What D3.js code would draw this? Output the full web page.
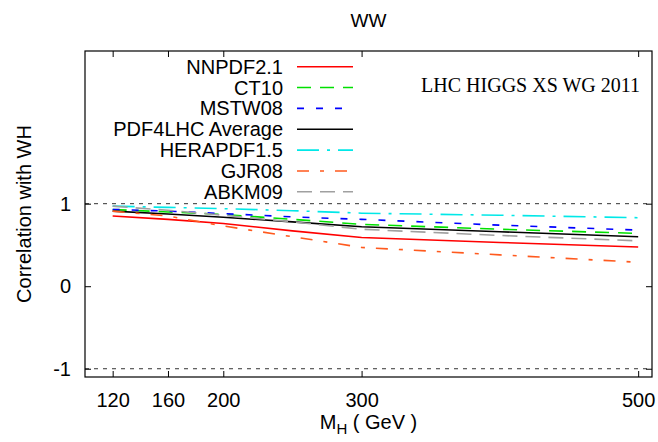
<!DOCTYPE html>
<html lang="en"><head>
<meta charset="utf-8">
<title>WW correlation</title>
<script src="https://cdnjs.cloudflare.com/ajax/libs/d3/7.8.5/d3.min.js"></script>
<style>
  body { margin: 0; background: #fff; }
  text { font-family: "Liberation Sans", Arial, sans-serif; fill: #000; }
</style>
</head>
<body>
<div id="chart"></div>
<script type="text/javascript">

// Higgs masses (GeV) and correlations
var masses  = [120, 160, 200, 250, 300, 400, 500];
var nnpdf   = [0.85, 0.81, 0.76, 0.67, 0.59, 0.53, 0.475];
var ct10    = [0.93, 0.90, 0.87, 0.81, 0.75, 0.69, 0.64];
var mstw    = [0.93, 0.91, 0.88, 0.84, 0.81, 0.74, 0.68];
var pdf4lhc = [0.91, 0.875, 0.835, 0.78, 0.72, 0.66, 0.60];
var herapdf = [0.97, 0.955, 0.94, 0.915, 0.885, 0.86, 0.83];
var gjr     = [0.91, 0.85, 0.73, 0.60, 0.47, 0.38, 0.29];
var abkm    = [0.97, 0.92, 0.86, 0.78, 0.69, 0.615, 0.55];

var names  = ["NNPDF2.1", "CT10", "MSTW08", "PDF4LHC Average", "HERAPDF1.5", "GJR08", "ABKM09"];
var values = [nnpdf, ct10, mstw, pdf4lhc, herapdf, gjr, abkm];

var xTicks = [120, 160, 200, 300, 500];
var yTicks = [-1, 0, 1];

var colors = ["#ff0000", "#00e000", "#0000ff", "#000000", "#00e8e8", "#ff5a1e", "#a0a0a0"];
var dashes = [null, "14,9", "7,12", null, "22,8,3,8", "12,11,4,11", "15,8"];

var width = 658, height = 442;
var margin = {top: 51, right: 6, bottom: 65, left: 85};

var svg = d3.select("#chart").append("svg")
    .attr("width", width).attr("height", height);

var x = d3.scaleLinear().domain([100, 510]).range([margin.left, width - margin.right]);
var y = d3.scaleLinear().domain([-1.1, 2.85]).range([height - margin.bottom, margin.top]);

// dotted reference lines at +1 / -1
svg.selectAll(".ref").data([1, -1]).enter().append("line")
    .attr("x1", x(100)).attr("x2", x(510))
    .attr("y1", function(d) { return y(d); })
    .attr("y2", function(d) { return y(d); })
    .attr("stroke", "#333").attr("stroke-width", 1)
    .attr("stroke-dasharray", "4,5");

// axes, ticks pointing inwards
svg.append("g").attr("transform", "translate(0," + y(-1.1) + ")")
    .call(d3.axisBottom(x).tickValues(xTicks).tickSize(-6).tickPadding(16));
svg.append("g").attr("transform", "translate(0," + y(2.85) + ")")
    .call(d3.axisTop(x).tickValues(xTicks).tickSize(-6).tickFormat(""));
svg.append("g").attr("transform", "translate(" + x(100) + ",0)")
    .call(d3.axisLeft(y).tickValues(yTicks).tickSize(-6).tickPadding(14)
        .tickFormat(function(d) { return String(d); }));
svg.append("g").attr("transform", "translate(" + x(510) + ",0)")
    .call(d3.axisRight(y).tickValues(yTicks).tickSize(-6).tickFormat(""));

svg.selectAll(".domain").remove();
svg.selectAll(".tick line").attr("stroke", "#000");
svg.selectAll(".tick text").style("font-size", "20px").style("font-family", "Liberation Sans, Arial, sans-serif");

// frame
svg.append("rect")
    .attr("x", x(100)).attr("y", y(2.85))
    .attr("width", x(510) - x(100)).attr("height", y(-1.1) - y(2.85))
    .attr("fill", "none").attr("stroke", "#000").attr("stroke-width", 1.2);

// curves
var line = d3.line()
    .x(function(d, i) { return x(masses[i]); })
    .y(function(d) { return y(d); });

svg.selectAll(".series").data(values).enter().append("path")
    .attr("d", line)
    .attr("fill", "none")
    .attr("stroke", function(d, i) { return colors[i]; })
    .attr("stroke-width", 1.6)
    .attr("stroke-dasharray", function(d, i) { return dashes[i]; });

// legend
var leg = svg.append("g");
names.forEach(function(n, i) {
    var ly = 66.7 + i * 20.85;
    leg.append("text").attr("x", 283).attr("y", ly + 7)
        .attr("text-anchor", "end").style("font-size", "20px").text(n);
    leg.append("line").attr("x1", 297).attr("x2", 353)
        .attr("y1", ly).attr("y2", ly)
        .attr("stroke", colors[i]).attr("stroke-width", 1.6)
        .attr("stroke-dasharray", dashes[i]);
});

svg.append("text").attr("x", 640).attr("y", 92)
    .attr("text-anchor", "end")
    .style("font-family", "Liberation Serif, Times New Roman, serif")
    .style("font-size", "20px")
    .text("LHC HIGGS XS WG 2011");

// titles
svg.append("text").attr("x", (x(100) + x(510)) / 2).attr("y", 27)
    .attr("text-anchor", "middle").style("font-size", "19px").text("WW");

svg.append("text")
    .attr("transform", "translate(31," + (y(-1.1) + y(2.85)) / 2 + ") rotate(-90)")
    .attr("text-anchor", "middle").style("font-size", "20px")
    .text("Correlation with WH");

var xl = svg.append("text").attr("x", (x(100) + x(510)) / 2).attr("y", 429)
    .attr("text-anchor", "middle").style("font-size", "20px");
xl.append("tspan").text("M");
xl.append("tspan").attr("dy", 5).style("font-size", "15px").text("H");
xl.append("tspan").attr("dy", -5).text(" ( GeV )");

</script>
</body></html>
